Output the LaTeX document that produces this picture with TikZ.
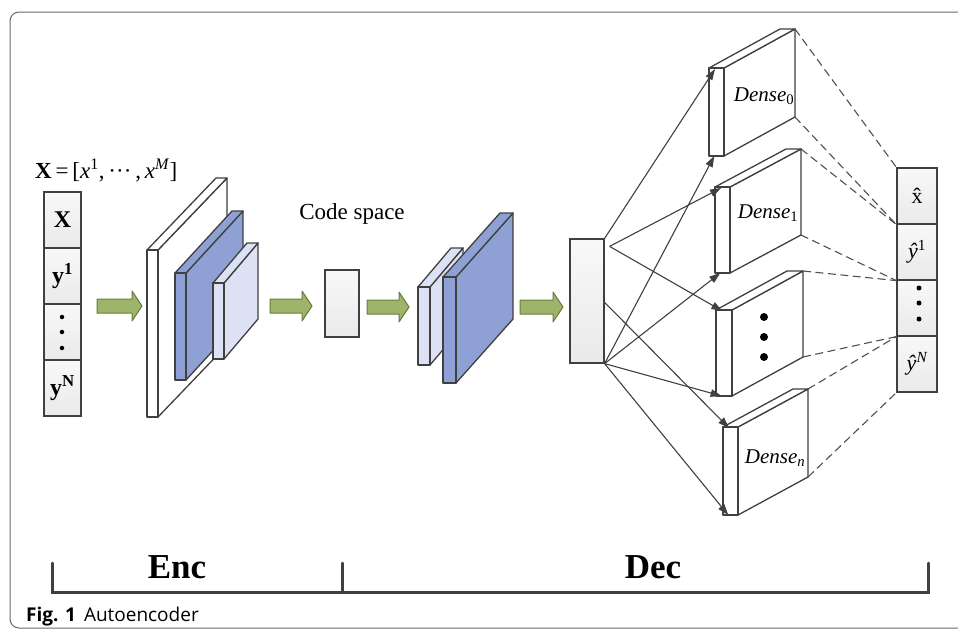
\documentclass[tikz,border=0pt]{standalone}
\usepackage{fontspec}
\setmainfont{Liberation Serif}
\setsansfont{Open Sans}
\usetikzlibrary{arrows.meta,calc}
\definecolor{edgeC}{RGB}{64,64,64}
\definecolor{frameC}{RGB}{105,105,105}
\definecolor{blueS}{RGB}{143,161,212}
\definecolor{lblueS}{RGB}{220,226,243}
\definecolor{greenF}{RGB}{158,180,106}
\definecolor{greenD}{RGB}{105,125,60}
\definecolor{dashC}{RGB}{80,80,80}
% #1 name, #2 x, #3 ytop, #4 w, #5 h, #6 dx, #7 dy, #8 fill
\newcommand{\slabbox}[8]{%
  \filldraw[slabedge, fill=#8] (#2+#4,#3) -- ++(#6,#7) -- ++(0,#5) -- (#2+#4,#3+#5) -- cycle;
  \filldraw[slabedge, fill=#8] (#2,#3) -- ++(#6,#7) -- ++(#4,0) -- (#2+#4,#3) -- cycle;
  \filldraw[slabedge, fill=#8] (#2,#3) rectangle ++(#4,#5);
  \coordinate (#1-btr) at (#2+#4+#6,#3+#7);
  \coordinate (#1-bbr) at (#2+#4+#6,#3+#5+#7);
  \coordinate (#1-ft) at (#2+0.4*#4,#3+1);
  \coordinate (#1-fb) at (#2+0.35*#4,#3+#5);
}
% #1 x0, #2 x1, #3 y
\newcommand{\greenarrow}[3]{%
  \filldraw[garr] (#1,#3-7) -- (#2-10,#3-7) -- (#2-10,#3-15) -- (#2,#3) -- (#2-10,#3+15) -- (#2-10,#3+7) -- (#1,#3+7) -- cycle;
}
\begin{document}
\begin{tikzpicture}[x=1pt,y=-1pt,
  slabedge/.style={draw=edgeC, line width=1.3pt, line join=round},
  cell/.style={draw=edgeC, line width=1.2pt, top color=gray!5, bottom color=gray!17, inner sep=0pt},
  garr/.style={draw=greenD, fill=greenF, line width=1pt, line join=round},
  conn/.style={draw=edgeC, line width=1.1pt, -{Triangle[length=11pt,width=7.5pt]}},
  dashconn/.style={draw=dashC, line width=1.1pt, dash pattern=on 8pt off 4.5pt},
  dotc/.style={circle, fill=black, inner sep=0pt, minimum size=#1},
  denselab/.style={font=\fontsize{21}{21}\selectfont\itshape},
  cellbold/.style={font=\fontsize{24}{24}\selectfont\bfseries},
  celllab/.style={font=\fontsize{22}{22}\selectfont},
]
\useasboundingbox (0,0) rectangle (958,630);
\clip (0,0) rectangle (958,630);
\fill[white] (0,0) rectangle (958,630);
\draw[frameC, line width=1pt, rounded corners=9pt] (10,12) rectangle (990,628);

% input label
\node[font=\fontsize{23}{23}\selectfont, anchor=west, inner sep=0pt] (xlab) at (35,170) {\textbf{X}\,=\,[\textit{x}\textsuperscript{1},\,···\,,\,\textit{x}\textsuperscript{\textit{M}}]};

% input column
\node[cell, cellbold, minimum width=37pt, minimum height=56pt] (in1) at (62.5,220) {X};
\node[cell, cellbold, minimum width=37pt, minimum height=56pt] (in2) at (62.5,276) {y\textsuperscript{1}};
\node[cell, minimum width=37pt, minimum height=56pt] (in3) at (62.5,332) {};
\node[cell, cellbold, minimum width=37pt, minimum height=56pt] (in4) at (62.5,388) {y\textsuperscript{N}};
\node[dotc=4.5pt] (ind1) at (62,317) {};
\node[dotc=4.5pt] (ind2) at (62,332) {};
\node[dotc=4.5pt] (ind3) at (62,348) {};

% green arrows
\greenarrow{97}{142}{306}
\greenarrow{270}{312}{306}
\greenarrow{367}{409}{307}
\greenarrow{520}{563}{307}

% encoder slabs
\slabbox{e1}{147}{250}{11}{167}{69}{-72}{white}
\slabbox{e2}{175}{273}{11}{107}{57}{-62}{blueS}
\slabbox{e3}{213}{283}{11}{76}{34}{-40}{lblueS}

% code space
\node[font=\fontsize{23}{23}\selectfont] (cslab) at (352,214) {Code space};
\node[cell, minimum width=34pt, minimum height=67pt] (code) at (342,303.5) {};

% decoder slabs
\slabbox{c1}{418}{287}{12}{78}{33}{-39}{lblueS}
\slabbox{c2}{443}{277}{13}{106}{57}{-64}{blueS}

% big box
\node[cell, minimum width=34pt, minimum height=124pt] (big) at (587,301) {};

% dense layers
\slabbox{d0}{709}{68}{15}{88}{71}{-39}{white}
\slabbox{d1}{715}{187}{15}{86}{71}{-38}{white}
\slabbox{d2}{716}{310}{16}{86}{71}{-39}{white}
\slabbox{dn}{723}{427}{15}{88}{70}{-38}{white}
\node[denselab] (l0) at (764,96) {Dense\textsubscript{\upshape 0}};
\node[denselab] (l1) at (768,213) {Dense\textsubscript{\upshape 1}};
\node[denselab] (ln) at (775,458) {Dense\textsubscript{\textit{n}}};
\node[dotc=8pt] (dd1) at (764,317) {};
\node[dotc=8pt] (dd2) at (764,337) {};
\node[dotc=8pt] (dd3) at (764,357) {};

% output column
\node[cell, celllab, minimum width=40pt, minimum height=56pt] (o1) at (917,196) {\^{x}};
\node[cell, celllab, minimum width=40pt, minimum height=56pt] (o2) at (917,252) {\itshape ŷ\textsuperscript{\upshape 1}};
\node[cell, minimum width=40pt, minimum height=56pt] (o3) at (917,308) {};
\node[cell, celllab, minimum width=40pt, minimum height=56pt] (o4) at (917,364) {\itshape ŷ\textsuperscript{N}};
\node[dotc=5pt] (od1) at (919,288) {};
\node[dotc=5pt] (od2) at (919,303) {};
\node[dotc=5pt] (od3) at (919,319) {};

% solid connectors
\coordinate (sA) at (big.north east);
\coordinate (sB) at ($(big.north east)+(5,8)$);
\coordinate (sC) at ($(big.north east)+(0,64)$);
\coordinate (sD) at (big.south east);
\draw[conn] (sA) -- (d0-ft);
\draw[conn] (sB) -- (d1-ft);
\draw[conn] (sB) -- (d2-ft);
\draw[conn] (sD) -- (d0-fb);
\draw[conn] (sD) -- (d1-fb);
\draw[conn] (sD) -- (d2-fb);
\draw[conn] (sC) -- (dn-ft);
\draw[conn] (sD) -- (dn-fb);

% dashed connectors
\draw[dashconn] (d0-btr) -- (o1.north west);
\draw[dashconn] (d0-bbr) -- (o1.south west);
\draw[dashconn] (d1-btr) -- (o1.south west);
\draw[dashconn] (d1-bbr) -- (o2.south west);
\draw[dashconn] (d2-btr) -- (o2.south west);
\draw[dashconn] (d2-bbr) -- (o3.south west);
\draw[dashconn] (dn-btr) -- (o3.south west);
\draw[dashconn] (dn-bbr) -- (o4.south west);

% bracket
\draw[edgeC, line width=3pt, line cap=round] (52,563) -- (52,592) -- (928,592) -- (928,563);
\draw[edgeC, line width=3pt, line cap=round] (342,592) -- (342,563);
\node[font=\fontsize{35}{35}\selectfont\bfseries] (enc) at (177,567) {Enc};
\node[font=\fontsize{35}{35}\selectfont\bfseries] (dec) at (653,567) {Dec};

% caption
\node[anchor=base west, inner sep=0pt, font=\sffamily\fontsize{19}{19}\selectfont] (cap) at (26,621) {\textbf{Fig. 1}\hspace{8pt}Autoencoder};
\end{tikzpicture}
\end{document}
